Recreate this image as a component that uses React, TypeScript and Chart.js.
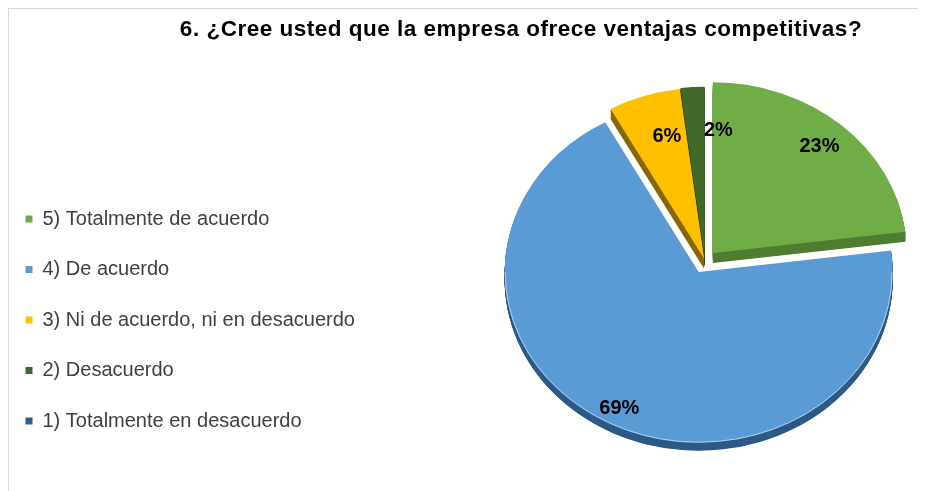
import { useEffect, useRef } from "react";
import { Chart, registerables } from "chart.js";

Chart.register(...registerables);

const TITLE = "6. ¿Cree usted que la empresa ofrece ventajas competitivas?";
const categories = [
  "5) Totalmente de acuerdo",
  "4) De acuerdo",
  "3) Ni de acuerdo, ni en desacuerdo",
  "2) Desacuerdo",
  "1) Totalmente en desacuerdo",
];
const percentages = [23, 69, 6, 2, 0];

// styles
const topColors = ["#70AD47", "#5B9BD5", "#FFC000", "#43682B", "#255E91"];
const sideColors = ["#507E32", "#2D5A86", "#8A6800", "#2C451C", "#1A4266"];
const explode = [12, 14, 3, 4, 0];
const labelRadius = [0.83, 0.9, 0.74, 0.75, 0.7];
const labelAngleShiftDeg = [0, 0, 3, 9, 0];
const drawOrder = [3, 2, 0, 4, 1];
const TILT = 0.88;
const DEPTH = 10;
const FAMILY = '"Liberation Sans", Arial, sans-serif';
const LEGEND_LEFT = -14;
const LEGEND_TOP = 169.5;

const pie3d = {
  id: "pie3d",
  afterLayout(chart: any) {
    const lg = chart.legend;
    if (!lg) return;
    lg.left = LEGEND_LEFT;
    lg.right = LEGEND_LEFT + 460;
    lg.top = LEGEND_TOP;
    lg.bottom = LEGEND_TOP + 400;
    lg.width = 460;
    lg.height = 400;
  },
  beforeDatasetDraw(chart: any, args: any) {
    const ctx = chart.ctx as CanvasRenderingContext2D;
    const meta = args.meta;
    for (const i of drawOrder) {
      const arc = meta.data[i];
      if (!arc) continue;
      const { x, y, startAngle, endAngle, outerRadius } = arc;
      if (endAngle - startAngle <= 1e-6) continue;
      const mid = (startAngle + endAngle) / 2;
      const sx = Math.cos(mid) * explode[i];
      const sy = Math.sin(mid) * explode[i] * TILT;
      const path = () => {
        ctx.beginPath();
        ctx.moveTo(x, y);
        ctx.arc(x, y, outerRadius, startAngle, endAngle);
        ctx.closePath();
      };
      const depth = i === 1 ? DEPTH - 2 : DEPTH;
      for (let d = depth; d >= 1; d -= 0.5) {
        ctx.save();
        ctx.translate(x + sx, y + sy + d);
        ctx.scale(1, TILT);
        ctx.translate(-x, -y);
        path();
        ctx.fillStyle = sideColors[i];
        ctx.fill();
        ctx.restore();
      }
      ctx.save();
      ctx.translate(x + sx, y + sy);
      ctx.scale(1, TILT);
      ctx.translate(-x, -y);
      arc.draw(ctx);
      const a0 = Math.max(startAngle, 0);
      const a1 = Math.min(endAngle, Math.PI);
      if (a1 > a0) {
        ctx.beginPath();
        ctx.arc(x, y, outerRadius - 0.5, a0, a1);
        ctx.strokeStyle = "rgba(255,255,255,0.55)";
        ctx.lineWidth = 1;
        ctx.stroke();
      }
      ctx.restore();
    }
    return false;
  },
  afterDatasetsDraw(chart: any) {
    const ctx = chart.ctx as CanvasRenderingContext2D;
    const meta = chart.getDatasetMeta(0);
    const values = chart.data.datasets[0].data as number[];
    ctx.save();
    ctx.font = `bold 20px ${FAMILY}`;
    ctx.fillStyle = "#000000";
    ctx.textAlign = "center";
    ctx.textBaseline = "middle";
    meta.data.forEach((arc: any, i: number) => {
      if (!values[i]) return;
      const { x, y, startAngle, endAngle, outerRadius } = arc;
      const mid = (startAngle + endAngle) / 2;
      const sx = Math.cos(mid) * explode[i];
      const sy = Math.sin(mid) * explode[i] * TILT;
      const a = mid + (labelAngleShiftDeg[i] * Math.PI) / 180;
      const r = outerRadius * labelRadius[i];
      ctx.fillText(values[i] + "%", x + sx + Math.cos(a) * r, y + sy + Math.sin(a) * r * TILT);
    });
    ctx.restore();
  },
  afterDraw(chart: any) {
    const ctx = chart.ctx as CanvasRenderingContext2D;
    ctx.save();
    ctx.font = `bold 22.5px ${FAMILY}`;
    (ctx as any).letterSpacing = "0.5px";
    ctx.fillStyle = "#000000";
    ctx.textAlign = "center";
    ctx.textBaseline = "alphabetic";
    ctx.fillText(TITLE, 512, 27);
    ctx.restore();
  },
};

export default function App() {
  const ref = useRef<HTMLCanvasElement | null>(null);
  useEffect(() => {
    if (!ref.current) return;
    Chart.defaults.font.family = FAMILY;
    const chart = new Chart(ref.current, {
      type: "pie",
      data: {
        labels: categories,
        datasets: [
          {
            data: percentages,
            backgroundColor: topColors,
            borderWidth: 0,
            radius: 194,
          } as any,
        ],
      },
      options: {
        responsive: false,
        animation: false,
        devicePixelRatio: 1,
        events: [],
        layout: { padding: { left: 475, right: 0, top: 55, bottom: 33 } },
        plugins: {
          legend: {
            position: "chartArea",
            align: "start",
            labels: {
              boxWidth: 7,
              boxHeight: 7,
              padding: 30.5,
              color: "#404040",
              font: { size: 20, family: FAMILY },
            },
          },
          title: { display: false },
          tooltip: { enabled: false },
        },
      } as any,
      plugins: [pie3d as any],
    });
    return () => chart.destroy();
  }, []);
  return (
    <div
      style={{
        width: 917,
        height: 482,
        borderTop: "1px solid #d9d9d9",
        borderLeft: "1px solid #d9d9d9",
        background: "#fff",
      }}
    >
      <canvas ref={ref} width={917} height={482} style={{ display: "block" }} />
    </div>
  );
}
